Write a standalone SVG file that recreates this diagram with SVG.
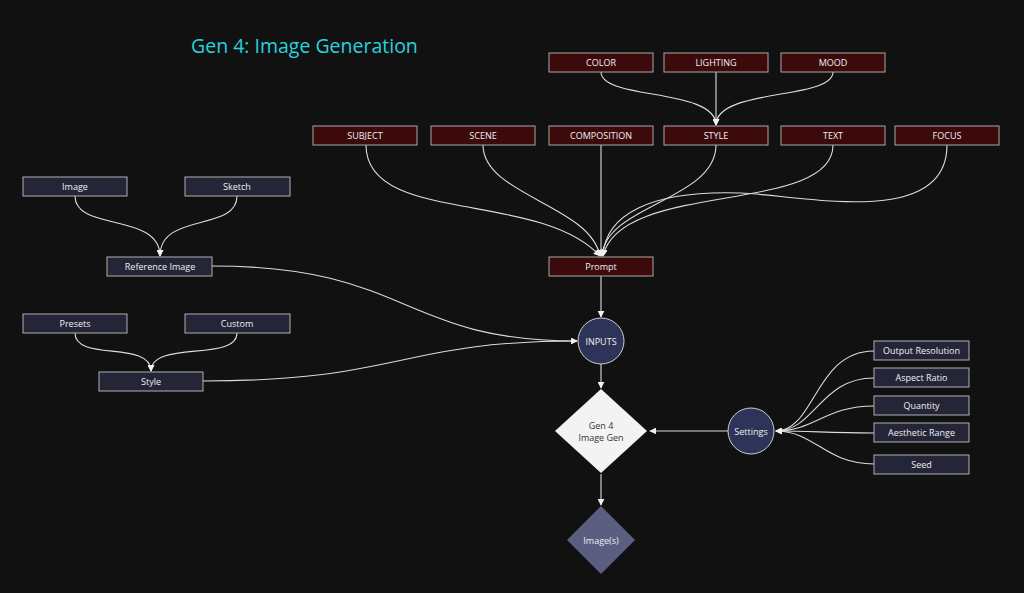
<svg xmlns="http://www.w3.org/2000/svg" width="1024" height="593" viewBox="0 0 1024 593">
<defs>
<style>
.bg{fill:#111111}
.red rect{fill:#3d0a0b;stroke:#a9a9a9;stroke-width:1}
.nav rect{fill:#252538;stroke:#b0b0b0;stroke-width:1}
.circ circle{fill:#2e3459;stroke:#d0d0d0;stroke-width:1}
text{font-family:"Open Sans","Noto Sans","Liberation Sans",sans-serif;font-size:9px;fill:#f0f0f0;text-anchor:middle;dominant-baseline:central}
.title{font-size:19.5px;fill:#27d3df;text-anchor:start;dominant-baseline:auto}
.dark{fill:#333333}
#edges path{fill:none;stroke:#dcdcdc;stroke-width:1.1;marker-end:url(#arr)}
</style>
<marker id="arr" viewBox="0 0 10 10" refX="9" refY="5" markerWidth="7" markerHeight="7" markerUnits="userSpaceOnUse" orient="auto">
<path d="M0,0 L10,5 L0,10 z" fill="#f0f0f0"/>
</marker>
</defs>
<rect class="bg" x="0" y="0" width="1024" height="593"/>
<text class="title" x="191" y="53">Gen 4: Image Generation</text>

<g id="edges">
<path d="M601,72 C601,100 716,88 716,125"/>
<path d="M716,72 L716,125"/>
<path d="M833,72 C833,100 716,88 716,125"/>
<path d="M366,145 C366,225 540,190 600,256"/>
<path d="M483,145 C483,195 590,205 600,256"/>
<path d="M601,145 L601,256"/>
<path d="M716,145 C716,200 605,205 602,256"/>
<path d="M833,145 C833,215 620,180 603,256"/>
<path d="M947,145 C947,230 800,195 740,193 C650,190 605,215 603,256"/>
<path d="M601,276 L601,317"/>
<path d="M75,196 C75,232 160,212 160,256"/>
<path d="M237,196 C237,232 160,212 160,256"/>
<path d="M75,333 C75,362 151,340 151,371"/>
<path d="M237,333 C237,362 151,340 151,371"/>
<path d="M212,266 C410,266 400,341 577,341"/>
<path d="M203,381 C400,381 400,341 577,341"/>
<path d="M601,364 L601,388"/>
<path d="M728,431 L650,431"/>
<path d="M601,474 L601,505"/>
<path d="M874,351 C815,351 815,431 776,431"/>
<path d="M874,378 C820,378 815,431 776,431"/>
<path d="M874,406 C825,406 815,431 776,431"/>
<path d="M874,433 C825,433 815,431 776,431"/>
<path d="M874,464 C825,464 815,431 776,431"/>
</g>

<g id="color" class="red"><rect x="549" y="53" width="104" height="19"/><text x="601" y="62.5">COLOR</text></g>
<g id="lighting" class="red"><rect x="664" y="53" width="104" height="19"/><text x="716" y="62.5">LIGHTING</text></g>
<g id="mood" class="red"><rect x="781" y="53" width="104" height="19"/><text x="833" y="62.5">MOOD</text></g>
<g id="subject" class="red"><rect x="313" y="126" width="104" height="19"/><text x="365" y="135.5">SUBJECT</text></g>
<g id="scene" class="red"><rect x="431" y="126" width="104" height="19"/><text x="483" y="135.5">SCENE</text></g>
<g id="composition" class="red"><rect x="549" y="126" width="104" height="19"/><text x="601" y="135.5">COMPOSITION</text></g>
<g id="style-prompt" class="red"><rect x="664" y="126" width="104" height="19"/><text x="716" y="135.5">STYLE</text></g>
<g id="text" class="red"><rect x="781" y="126" width="104" height="19"/><text x="833" y="135.5">TEXT</text></g>
<g id="focus" class="red"><rect x="895" y="126" width="104" height="19"/><text x="947" y="135.5">FOCUS</text></g>
<g id="prompt" class="red"><rect x="549" y="257" width="104" height="19"/><text x="601" y="266.5">Prompt</text></g>

<g id="image" class="nav"><rect x="23" y="177" width="104" height="19"/><text x="75" y="186.5">Image</text></g>
<g id="sketch" class="nav"><rect x="185" y="177" width="105" height="19"/><text x="237" y="186.5">Sketch</text></g>
<g id="reference" class="nav"><rect x="107" y="257" width="105" height="19"/><text x="160" y="266.5">Reference Image</text></g>
<g id="presets" class="nav"><rect x="23" y="314" width="104" height="19"/><text x="75" y="323.5">Presets</text></g>
<g id="custom" class="nav"><rect x="185" y="314" width="105" height="19"/><text x="237" y="323.5">Custom</text></g>
<g id="style" class="nav"><rect x="99" y="372" width="104" height="19"/><text x="151" y="381.5">Style</text></g>

<g id="inputs" class="circ"><circle cx="601" cy="341" r="23"/><text x="601" y="341">INPUTS</text></g>
<g id="settings" class="circ"><circle cx="751" cy="431" r="23"/><text x="751" y="431">Settings</text></g>

<g id="gen4"><polygon points="601,389 647,431 601,473 555,431" fill="#f3f3f3"/><text class="dark" x="601" y="425">Gen 4</text><text class="dark" x="601" y="437">Image Gen</text></g>
<g id="images"><polygon points="601,506 635,540 601,574 567,540" fill="#5b5e80"/><text x="601" y="540">Image(s)</text></g>

<g id="outres" class="nav"><rect x="874" y="341" width="95" height="19"/><text x="921.5" y="350.5">Output Resolution</text></g>
<g id="aspect" class="nav"><rect x="874" y="368" width="95" height="19"/><text x="921.5" y="377.5">Aspect Ratio</text></g>
<g id="quantity" class="nav"><rect x="874" y="396" width="95" height="19"/><text x="921.5" y="405.5">Quantity</text></g>
<g id="aesthetic" class="nav"><rect x="874" y="423" width="95" height="19"/><text x="921.5" y="432.5">Aesthetic Range</text></g>
<g id="seed" class="nav"><rect x="874" y="455" width="95" height="19"/><text x="921.5" y="464.5">Seed</text></g>
</svg>
